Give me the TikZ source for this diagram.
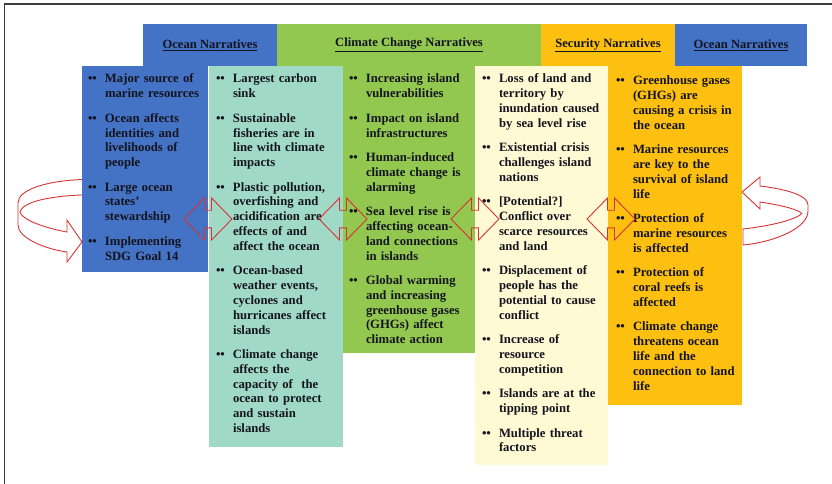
\documentclass[tikz,border=0pt]{standalone}
\usepackage{fontspec}
\setmainfont{Liberation Serif}

% palette
\definecolor{oceanblue}{RGB}{68,114,196}
\definecolor{seateal}{RGB}{161,217,199}
\definecolor{climgreen}{RGB}{146,200,80}
\definecolor{paleyellow}{RGB}{255,249,212}
\definecolor{securegold}{RGB}{254,192,16}
\definecolor{ink}{RGB}{20,20,30}
\definecolor{framegray}{RGB}{60,60,60}
\definecolor{linkred}{RGB}{214,52,52}

% one bullet point of a narrative list
\newcommand{\listfont}{\bfseries\fontsize{12.7}{14.8}\selectfont}
\newcommand{\bitem}[1]{\noindent\strut\llap{\makebox[17pt][l]{\textbullet\textbullet}}#1\par\vspace{9.7pt}}
% underlined heading, lifted slightly in its band
\newcommand{\headtext}[1]{\raisebox{2pt}{\underline{#1}}}

\tikzset{
  colbox/.style={draw=none, inner sep=0pt, outer sep=0pt, anchor=north west},
  hdr/.style={draw=none, inner sep=0pt, outer sep=0pt, anchor=north west,
    minimum height=42pt, text=ink, font=\bfseries\fontsize{12.6}{14}\selectfont},
  listtext/.style={inner sep=0pt, outer sep=0pt, anchor=north west,
    text width=120pt, align=left, text=ink, font=\listfont},
  linkline/.style={draw=linkred, line width=0.9pt, line join=miter},
  dblarr/.pic={
    \draw[linkline] (-24,0) -- (-3.5,-21) -- (-3.5,-8.8) -- (3.5,-8.8) -- (3.5,-21)
      -- (24,0) -- (3.5,21) -- (3.5,8.8) -- (-3.5,8.8) -- (-3.5,21) -- cycle;
  },
}

\begin{document}
\begin{tikzpicture}[x=1pt,y=-1pt]
\useasboundingbox (0,0) rectangle (832,484);

% frame edges
\draw[framegray, line width=1.5pt] (4.5,484) -- (4.5,4) -- (832,4);

% header band
\node[hdr, fill=oceanblue, minimum width=134pt] (h1) at (143,24) {\headtext{Ocean Narratives}};
\node[hdr, fill=climgreen, minimum width=264pt] (h2) at (277,24) {\headtext{Climate Change Narratives}};
\node[hdr, fill=securegold, minimum width=134pt] (h3) at (541,24) {\headtext{Security Narratives}};
\node[hdr, fill=oceanblue, minimum width=132pt] (h4) at (675,24) {\headtext{Ocean Narratives}};

% narrative columns
\node[colbox, fill=oceanblue, minimum width=126pt, minimum height=206pt] (c1) at (82,66) {};
\node[colbox, fill=seateal, minimum width=134pt, minimum height=381pt] (c2) at (209,66) {};
\node[colbox, fill=climgreen, minimum width=132pt, minimum height=287pt] (c3) at (343,66) {};
\node[colbox, fill=paleyellow, minimum width=133pt, minimum height=399pt] (c4) at (475,66) {};
\node[colbox, fill=securegold, minimum width=134pt, minimum height=339pt] (c5) at (608,66) {};

% column texts
\node[listtext] (t1) at ([shift={(23pt,-6.6pt)}]c1.north west) {%
\bitem{Major source of\\marine resources}
\bitem{Ocean affects\\identities and\\livelihoods of\\people}
\bitem{Large ocean\\states’\\stewardship}
\bitem{Implementing\\SDG Goal 14}};

\node[listtext] (t2) at ([shift={(24pt,-6.6pt)}]c2.north west) {%
\bitem{Largest carbon\\sink}
\bitem{Sustainable\\fisheries are in\\line with climate\\impacts}
\bitem{Plastic pollution,\\overfishing and\\acidification are\\effects of and\\affect the ocean}
\bitem{Ocean-based\\weather events,\\cyclones and\\hurricanes affect\\islands}
\bitem{Climate change\\affects the\\capacity of\ \ the\\ocean to protect\\and sustain\\islands}};

\node[listtext] (t3) at ([shift={(23pt,-6.6pt)}]c3.north west) {%
\bitem{Increasing island\\vulnerabilities}
\bitem{Impact on island\\infrastructures}
\bitem{Human-induced\\climate change is\\alarming}
\bitem{Sea level rise is\\affecting ocean-\\land connections\\in islands}
\bitem{Global warming\\and increasing\\greenhouse gases\\(GHGs) affect\\climate action}};

\node[listtext] (t4) at ([shift={(24pt,-6.6pt)}]c4.north west) {%
\bitem{Loss of land and\\territory by\\inundation caused\\by sea level rise}
\bitem{Existential crisis\\challenges island\\nations}
\bitem{[Potential?]\\Conflict over\\scarce resources\\and land}
\bitem{Displacement of\\people has the\\potential to cause\\conflict}
\bitem{Increase of\\resource\\competition}
\bitem{Islands are at the\\tipping point}
\bitem{Multiple threat\\factors}};

\node[listtext] (t5) at ([shift={(25pt,-8.6pt)}]c5.north west) {%
\bitem{Greenhouse gases\\(GHGs) are\\causing a crisis in\\the ocean}
\bitem{Marine resources\\are key to the\\survival of island\\life}
\bitem{Protection of\\marine resources\\is affected}
\bitem{Protection of\\coral reefs is\\affected}
\bitem{Climate change\\threatens ocean\\life and the\\connection to land\\life}};

% two-way links between neighbouring columns
\coordinate (mid) at (0,219);
\pic at (c1.east |- mid) {dblarr};
\pic at (c2.east |- mid) {dblarr};
\pic at (c3.east |- mid) {dblarr};
\path (c4.east |- mid) ++(3,0) coordinate (a4);
\pic at (a4) {dblarr};

% looping arrow back into the first column
\draw[linkline] (c1.west |- 0,179.5) .. controls (45,181) and (18,190) .. (18,203)
  -- (18,225) .. controls (18,238) and (45,249) .. (67,252) -- (67,262)
  -- (c1.west |- 0,242) -- (67,220) -- (67,232) .. controls (45,228) and (22,220) .. (20,212);
\draw[linkline] (c1.west |- 0,195) .. controls (50,196) and (22,202) .. (20,212);

% looping arrow back into the last column
\draw[linkline] (c5.east |- 0,192) -- (760,177) -- (760,186)
  .. controls (785,189) and (808,195) .. (808,205) -- (808,211)
  .. controls (808,228) and (775,242) .. (743,245) -- (743,229)
  .. controls (770,226) and (795,220) .. (802,213.5);
\draw[linkline] (c5.east |- 0,192) -- (760,209) -- (760,202)
  .. controls (780,205) and (797,209) .. (802,213.5);
\end{tikzpicture}
\end{document}
